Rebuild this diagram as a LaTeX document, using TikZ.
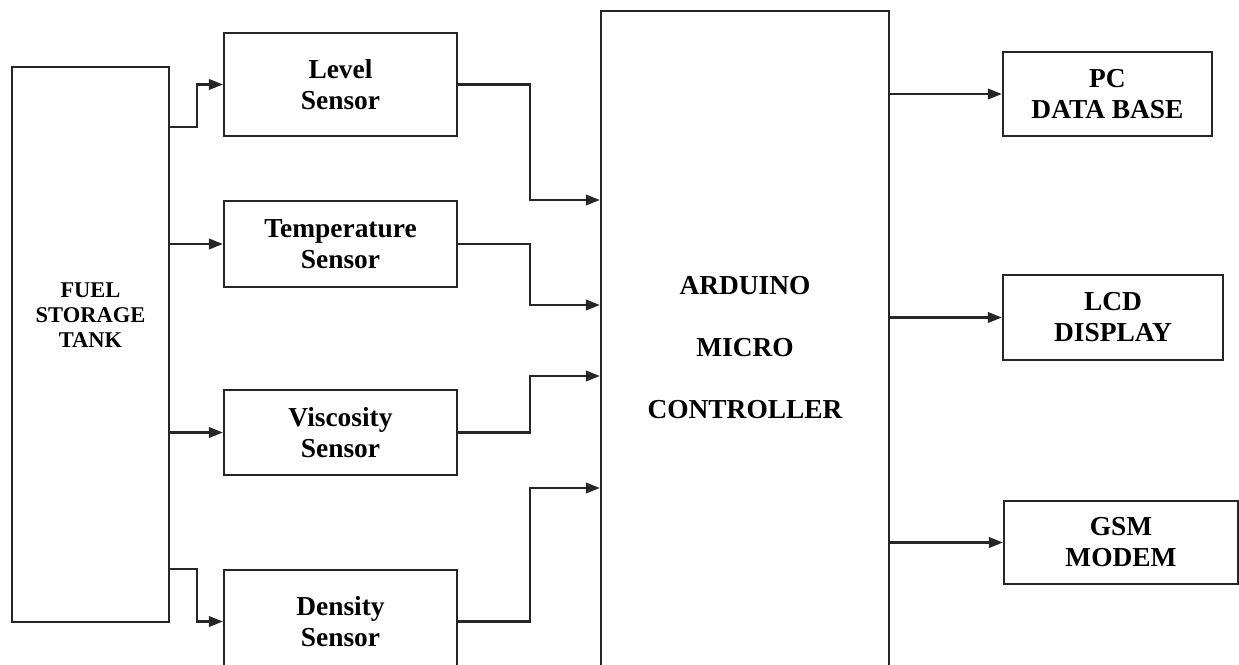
\documentclass[tikz,border=0pt]{standalone}
\usepackage{fontspec}
\setmainfont{Liberation Serif}
\usepackage{tikz}
\usetikzlibrary{arrows.meta,positioning,calc}

\begin{document}
\begin{tikzpicture}[
    blockbox/.style={draw=black!85, line width=1.3pt, align=center, inner sep=0pt, font=\bfseries\fontsize{15.6}{17.6}\selectfont},
    sensorbox/.style={blockbox, minimum width=4.66cm, minimum height=1.72cm},
    outbox/.style={blockbox, minimum height=1.68cm},
    flow/.style={draw=black!85, line width=1.3pt, -{Triangle[length=2.8mm, width=2.1mm]}}
  ]
    \useasboundingbox (0,0) rectangle (24.78,-13.28);

    % Tank
    \node[blockbox, minimum width=3.14cm, minimum height=11.1cm] (tank) at (1.81,-6.89) {};
    \node[align=center, font=\bfseries\fontsize{12.8}{14.2}\selectfont] (tanklbl) at ([yshift=0.59cm]tank.center) {FUEL\\STORAGE\\TANK};

    % Sensors
    \node[sensorbox, minimum height=2.06cm] (level) at (6.81,-1.69) {Level\\Sensor};
    \node[sensorbox] (temp) at (6.81,-4.88) {Temperature\\Sensor};
    \node[sensorbox, minimum height=1.70cm] (visc) at (6.81,-8.65) {Viscosity\\Sensor};
    \node[sensorbox, minimum height=2.06cm] (dens) at (6.81,-12.43) {Density\\Sensor};

    % Controller
    \node[blockbox, minimum width=5.76cm, minimum height=13.48cm, font=\bfseries\fontsize{15.6}{35.3}\selectfont] (ard) at (14.90,-6.96) {ARDUINO\\MICRO\\CONTROLLER};

    % Outputs
    \node[outbox, minimum width=4.18cm] (pc) at (22.15,-1.88) {PC\\DATA BASE};
    \node[outbox, minimum width=4.40cm, minimum height=1.70cm] (lcd) at (22.26,-6.35) {LCD\\DISPLAY};
    \node[outbox, minimum width=4.68cm, minimum height=1.66cm] (gsm) at (22.42,-10.85) {GSM\\MODEM};

    % Tank to sensors
    \draw[flow] (tank.east |- 0,-2.54) -- ++(0.54,0) |- (level.west);
    \draw[flow] (tank.east |- temp.west) -- (temp.west);
    \draw[flow] (tank.east |- visc.west) -- (visc.west);
    \draw[flow] (tank.east |- 0,-11.38) -- ++(0.54,0) |- (dens.west);

    % Sensors to controller
    \draw[flow] (level.east) -- ++(1.44,0) |- ([yshift=2.96cm]ard.west);
    \draw[flow] (temp.east) -- ++(1.44,0) |- ([yshift=0.86cm]ard.west);
    \draw[flow] (visc.east) -- ++(1.44,0) |- ([yshift=-0.56cm]ard.west);
    \draw[flow] (dens.east) -- ++(1.44,0) |- ([yshift=-2.80cm]ard.west);

    % Controller to outputs
    \draw[flow] (ard.east |- pc.west) -- (pc.west);
    \draw[flow] (ard.east |- lcd.west) -- (lcd.west);
    \draw[flow] (ard.east |- gsm.west) -- (gsm.west);
\end{tikzpicture}
\end{document}
